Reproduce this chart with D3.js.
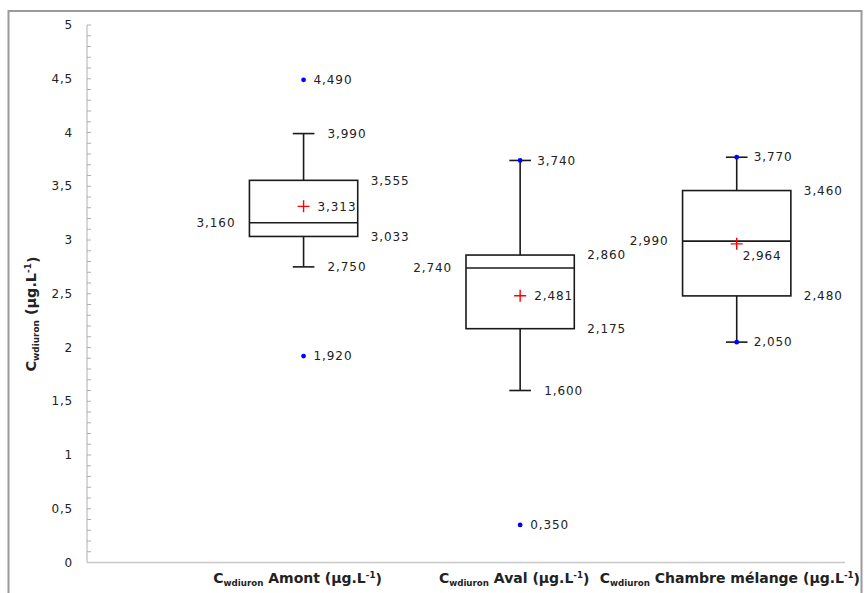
<!DOCTYPE html>
<html>
<head>
<meta charset="utf-8">
<script src="https://cdn.jsdelivr.net/npm/d3@7"></script>
<style>
  html, body { margin: 0; padding: 0; background: #fff; }
  svg { display: block; }
  text { font-family: "DejaVu Sans", sans-serif; fill: #222; }
</style>
</head>
<body>
<script>
// Box-plot statistics of diuron concentration (µg/L) per sampling point
const categories   = ["Amont", "Aval", "Chambre mélange"];
const whiskerLow   = [2.750, 1.600, 2.050];
const q1           = [3.033, 2.175, 2.480];
const median       = [3.160, 2.740, 2.990];
const q3           = [3.555, 2.860, 3.460];
const whiskerHigh  = [3.990, 3.740, 3.770];
const mean         = [3.313, 2.481, 2.964];
const dataMin      = [1.920, 0.350, 2.050];
const dataMax      = [4.490, 3.740, 3.770];
const yTicks       = [0, 0.5, 1, 1.5, 2, 2.5, 3, 3.5, 4, 4.5, 5];

const W = 864, H = 593;
const svg = d3.select("body").append("svg").attr("width", W).attr("height", H);

const fr = d3.formatLocale({decimal: ",", thousands: " ", grouping: [3], currency: ["", ""]});
const fmtVal = fr.format(".3f");
const fmtTick = fr.format(".1~f");

// outer frame
svg.append("rect")
  .attr("x", 8.5).attr("y", 11).attr("width", 853).attr("height", 600)
  .attr("fill", "none").attr("stroke", "#9a9a9a").attr("stroke-width", 2);

const x = d3.scaleLinear().domain([0, 3.5]).range([87, 845]);
const y = d3.scaleLinear().domain([0, 5]).range([562.5, 25]);

// y axis: major ticks labelled, minor ticks every 0.1
const yAxis = svg.append("g").attr("transform", "translate(87,0)");
yAxis.append("line").attr("x1", 0).attr("x2", 0).attr("y1", y(5)).attr("y2", y(0))
  .attr("stroke", "#b0b0b0").attr("stroke-width", 1);
yAxis.selectAll("line.minor").data(d3.range(0, 51).map(i => i / 10)).join("line")
  .attr("class", "minor")
  .attr("x1", 0).attr("x2", 4)
  .attr("y1", d => y(d)).attr("y2", d => y(d))
  .attr("stroke", "#b0b0b0").attr("stroke-width", 1);
yAxis.selectAll("text.tick").data(yTicks).join("text")
  .attr("class", "tick")
  .attr("x", -14).attr("y", d => y(d))
  .attr("dy", "0.35em")
  .attr("text-anchor", "end")
  .attr("font-size", 12).attr("letter-spacing", 0.8)
  .text(d => fmtTick(d));

// x axis line
svg.append("line").attr("x1", x(0)).attr("x2", x(3.5)).attr("y1", y(0)).attr("y2", y(0))
  .attr("stroke", "#c8c8c8").attr("stroke-width", 1.5);

// rich text: C with "wdiuron" subscript and unit with -1 superscript
function richLabel(t, name) {
  t.append("tspan").text("C");
  t.append("tspan").attr("font-size", "0.62em").attr("dy", "0.35em").text("wdiuron");
  t.append("tspan").attr("dy", "-0.22em").text((name ? " " + name : "") + " (µg.L");
  t.append("tspan").attr("font-size", "0.62em").attr("dy", "-0.55em").text("-1");
  t.append("tspan").attr("dy", "0.45em").text(")");
}

// category labels, placed right to left so none leaves the frame or overlaps
const catLabels = categories.map((c, i) => {
  const t = svg.append("text")
    .attr("x", x(i + 1) - 6).attr("y", 583)
    .attr("text-anchor", "middle")
    .attr("font-size", 14).attr("font-weight", "bold")
    .attr("fill", "#111");
  richLabel(t, c);
  return t;
});
let limit = 860;
for (let i = catLabels.length - 1; i >= 0; i--) {
  const t = catLabels[i];
  const bb = t.node().getBBox();
  const overflow = bb.x + bb.width - limit;
  if (overflow > 0) t.attr("x", +t.attr("x") - overflow);
  limit = t.node().getBBox().x - 10;
}

// y axis title
const yt = svg.append("text")
  .attr("transform", "translate(36,314) rotate(-90)")
  .attr("text-anchor", "middle")
  .attr("font-size", 14.4).attr("font-weight", "bold")
  .attr("fill", "#111");
richLabel(yt, "");

const boxW = x(0.5) - x(0);
const capW = x(0.1) - x(0);
const ink = "#1a1a1a";

function label(px, py, v, anchor) {
  svg.append("text")
    .attr("x", px).attr("y", py).attr("dy", "0.35em")
    .attr("text-anchor", anchor || "start")
    .attr("font-size", 12).attr("letter-spacing", 0.9)
    .text(fmtVal(v));
}

categories.forEach((c, i) => {
  const cx = x(i + 1);
  const g = svg.append("g");

  // whiskers
  g.append("line").attr("x1", cx).attr("x2", cx).attr("y1", y(q3[i])).attr("y2", y(whiskerHigh[i]))
    .attr("stroke", ink).attr("stroke-width", 1.6);
  g.append("line").attr("x1", cx).attr("x2", cx).attr("y1", y(q1[i])).attr("y2", y(whiskerLow[i]))
    .attr("stroke", ink).attr("stroke-width", 1.6);
  [whiskerHigh[i], whiskerLow[i]].forEach(v => {
    g.append("line").attr("x1", cx - capW / 2).attr("x2", cx + capW / 2)
      .attr("y1", y(v)).attr("y2", y(v))
      .attr("stroke", ink).attr("stroke-width", 1.6);
  });

  // box
  g.append("rect")
    .attr("x", cx - boxW / 2).attr("width", boxW)
    .attr("y", y(q3[i])).attr("height", y(q1[i]) - y(q3[i]))
    .attr("fill", "none").attr("stroke", ink).attr("stroke-width", 1.6);
  g.append("line").attr("x1", cx - boxW / 2).attr("x2", cx + boxW / 2)
    .attr("y1", y(median[i])).attr("y2", y(median[i]))
    .attr("stroke", ink).attr("stroke-width", 1.6);

  // minimum / maximum points
  [dataMin[i], dataMax[i]].forEach(v => {
    g.append("circle").attr("cx", cx).attr("cy", y(v)).attr("r", 2.4).attr("fill", "#0000ff");
  });

  // mean cross
  const my = y(mean[i]);
  g.append("path").attr("d", `M${cx - 6},${my}H${cx + 6}M${cx},${my - 6}V${my + 6}`)
    .attr("stroke", "#ff0000").attr("stroke-width", 1.4).attr("fill", "none");

  // value labels
  const right = cx + boxW / 2 + 13;
  label(right, y(q3[i]), q3[i]);
  label(right, y(q1[i]), q1[i]);
  label(cx - boxW / 2 - 14, y(median[i]), median[i], "end");
  if (Math.abs(y(mean[i]) - y(median[i])) < 8) {
    label(cx + 6, my + 12, mean[i]);
  } else {
    label(cx + 14, my, mean[i]);
  }
  [[whiskerHigh[i], dataMax[i]], [whiskerLow[i], dataMin[i]]].forEach(([w, p]) => {
    if (w === p) {
      label(cx + 17, y(w), w);
    } else {
      label(cx + 24, y(w), w);
      label(cx + 10, y(p), p);
    }
  });
});
</script>
</body>
</html>
